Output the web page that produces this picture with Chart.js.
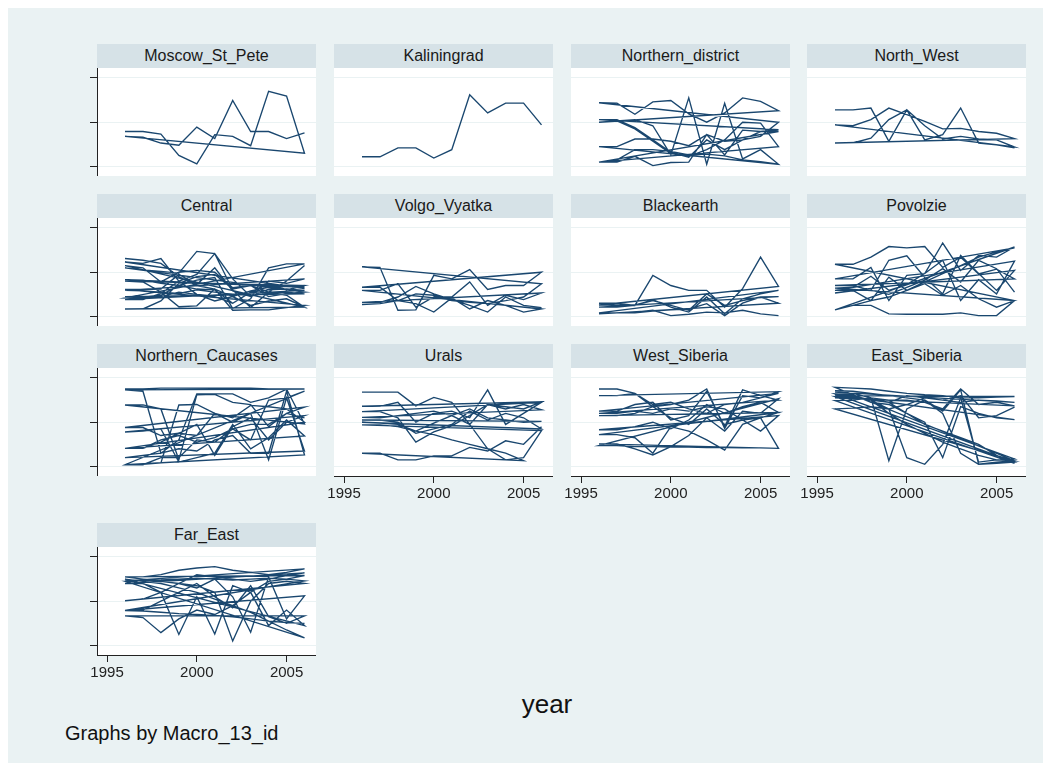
<!DOCTYPE html>
<html>
<head>
<meta charset="utf-8">
<script src="https://cdn.jsdelivr.net/npm/chart.js@4.4.1/dist/chart.umd.min.js"></script>
<style>
  html, body { margin: 0; padding: 0; background: #ffffff; }
  body { width: 1051px; height: 771px; overflow: hidden; position: relative;
         font-family: "Liberation Sans", Arial, Helvetica, sans-serif; }
  #graph { position: absolute; left: 8px; top: 8px; width: 1035px; height: 755px; background: #eaf2f3; }
  .strip { position: absolute; height: 24px; line-height: 24px; background: #d6e2e7;
           text-align: center; font-size: 16px; color: #1a1a1a; white-space: nowrap; }
  canvas.panel { position: absolute; }
  #xtitle { position: absolute; left: 447px; width: 200px; top: 688px; text-align: center;
            font-size: 26px; color: #111; line-height: 32px; }
  #note { position: absolute; left: 65px; top: 720px; font-size: 20px; color: #111; line-height: 26px; }
</style>
</head>
<body>
<div id="graph"></div>
<div id="xtitle">year</div>
<div id="note">Graphs by Macro_13_id</div>
<script>
// Survey years and the axis ticks shown on the panels
const years = [1996, 1997, 1998, 1999, 2000, 2001, 2002, 2003, 2004, 2005, 2006];
const xTicks = [1995, 2000, 2005];
const yTicks = [0, 1, 2];

// Panel titles (Macro_13_id), in display order
const regions = ['Moscow_St_Pete', 'Kaliningrad', 'Northern_district', 'North_West',
                 'Central', 'Volgo_Vyatka', 'Blackearth', 'Povolzie',
                 'Northern_Caucases', 'Urals', 'West_Siberia', 'East_Siberia',
                 'Far_East'];

// One row per region inside each macro-region, 1996..2006 (data order is kept)
const moscowStPete = [
  [0.79, 0.79, 0.73, 0.25, 0.06, 0.72, 0.68, 0.47, 1.70, 1.59, 0.30],
  [0.68, 0.66, 0.53, 0.48, 0.89, 0.63, 1.49, 0.79, 0.79, 0.63, 0.76]
];
const kaliningrad = [
  [0.22, 0.22, 0.42, 0.42, 0.19, 0.38, 1.62, 1.21, 1.43, 1.43, 0.94]
];
const northernDistrict = [
  [1.06, 1.06, 0.88, 0.60, 0.32, 0.21, 0.60, 0.38, 0.60, 0.68, 1.00],
  [1.44, 1.43, 1.18, 1.46, 1.49, 1.19, 1.00, 1.21, 1.55, 1.47, 1.26],
  [1.00, 1.03, 1.06, 0.92, 0.26, 1.55, 0.05, 1.43, 0.17, 0.38, 0.05],
  [0.45, 0.45, 0.62, 0.62, 0.57, 0.47, 0.72, 0.26, 0.82, 0.79, 0.79],
  [0.10, 0.10, 0.23, 0.02, 0.09, 0.10, 0.72, 0.57, 0.60, 0.79, 0.83],
  [1.06, 1.03, 0.85, 0.57, 0.29, 0.23, 0.38, 0.60, 1.00, 0.98, 0.45],
  [0.10, 0.15, 0.38, 0.38, 0.34, 0.26, 0.28, 0.24, 0.15, 0.11, 0.05]
];
const northWest = [
  [1.28, 1.28, 1.32, 0.57, 1.28, 0.92, 0.62, 0.68, 0.62, 0.60, 0.44],
  [0.94, 0.92, 1.06, 1.32, 1.17, 1.02, 0.85, 0.86, 0.79, 0.75, 0.63],
  [0.53, 0.53, 0.64, 1.06, 1.28, 0.60, 0.72, 1.32, 0.53, 0.49, 0.42]
];
const central = [
  [1.31, 1.27, 1.20, 0.90, 0.70, 0.62, 0.45, 0.58, 0.66, 0.70, 0.63],
  [1.23, 1.20, 1.31, 0.80, 0.95, 1.42, 0.60, 0.20, 0.55, 0.48, 0.21],
  [1.15, 1.10, 0.78, 1.00, 1.04, 1.00, 0.65, 0.70, 0.45, 0.52, 0.55],
  [1.10, 1.05, 1.02, 0.98, 1.47, 1.42, 0.85, 0.45, 0.62, 0.70, 0.66],
  [0.83, 0.82, 0.75, 0.70, 0.62, 0.60, 0.30, 0.55, 0.75, 0.60, 0.70],
  [0.80, 0.78, 0.55, 0.22, 0.24, 0.62, 0.14, 0.15, 0.15, 0.20, 0.25],
  [0.61, 0.61, 0.62, 0.95, 0.72, 1.10, 0.58, 0.45, 0.80, 0.75, 0.85],
  [0.59, 0.58, 0.55, 0.52, 0.60, 0.55, 0.50, 0.48, 0.52, 0.55, 0.51],
  [0.45, 0.44, 0.48, 0.70, 0.82, 0.88, 0.18, 0.40, 1.10, 1.19, 1.19],
  [0.42, 0.41, 0.45, 0.55, 0.50, 0.45, 0.30, 0.55, 0.60, 0.62, 0.59],
  [0.38, 0.38, 0.52, 0.80, 0.50, 0.35, 0.45, 0.25, 0.35, 0.40, 0.21],
  [0.17, 0.17, 0.35, 0.75, 0.90, 0.95, 0.62, 0.70, 0.55, 0.80, 1.15]
];
const volgoVyatka = [
  [0.27, 0.29, 0.36, 0.51, 0.48, 0.36, 0.32, 0.29, 0.36, 0.44, 0.74],
  [1.12, 1.11, 0.14, 0.15, 0.93, 0.85, 1.06, 0.61, 0.70, 0.70, 1.00],
  [0.66, 0.66, 0.36, 0.29, 0.10, 0.42, 0.17, 0.36, 0.25, 0.10, 0.17],
  [0.59, 0.59, 0.74, 0.21, 0.44, 0.44, 0.78, 0.25, 0.48, 0.38, 0.53],
  [0.32, 0.32, 0.44, 0.68, 0.51, 0.38, 0.25, 0.10, 0.44, 0.25, 0.20]
];
const blackearth = [
  [0.30, 0.30, 0.25, 0.93, 0.70, 0.59, 0.59, 0.21, 0.63, 1.34, 0.68],
  [0.26, 0.26, 0.26, 0.36, 0.25, 0.14, 0.51, 0.25, 0.36, 0.44, 0.45],
  [0.21, 0.21, 0.25, 0.38, 0.21, 0.10, 0.44, 0.06, 0.40, 0.51, 0.59],
  [0.08, 0.08, 0.08, 0.12, 0.15, 0.17, 0.29, 0.02, 0.30, 0.44, 0.30],
  [0.06, 0.08, 0.10, 0.14, 0.02, 0.05, 0.10, 0.08, 0.14, 0.06, 0.02]
];
const povolzie = [
  [0.15, 0.25, 0.36, 0.44, 0.59, 0.78, 0.97, 1.15, 1.34, 1.46, 1.55],
  [0.85, 0.85, 1.11, 0.36, 0.93, 0.97, 1.66, 1.04, 1.38, 1.34, 1.57],
  [0.15, 0.25, 0.25, 0.06, 0.05, 0.05, 0.05, 0.08, 0.02, 0.02, 0.36],
  [1.18, 1.18, 1.34, 1.58, 1.55, 1.58, 1.11, 1.34, 0.96, 1.07, 0.85],
  [0.70, 0.70, 0.59, 1.27, 1.37, 0.88, 0.51, 1.38, 0.97, 0.59, 1.04],
  [0.53, 0.59, 0.36, 0.89, 0.59, 0.74, 0.48, 0.70, 0.40, 0.21, 0.36],
  [0.64, 0.66, 0.91, 0.59, 0.72, 0.97, 1.27, 0.36, 0.83, 0.51, 1.25],
  [0.59, 0.59, 0.59, 0.50, 0.66, 0.82, 1.08, 0.78, 1.27, 1.08, 0.55]
];
const northernCaucases = [
  [1.75, 1.75, 1.77, 1.77, 1.77, 1.77, 1.77, 1.77, 1.75, 1.75, 1.75],
  [1.73, 1.70, 0.30, 0.60, 1.64, 1.64, 1.64, 1.45, 1.55, 1.75, 0.96],
  [1.39, 1.39, 1.30, 0.15, 1.62, 1.63, 1.45, 1.40, 0.90, 1.20, 1.34],
  [0.88, 0.88, 0.70, 0.75, 0.95, 0.25, 0.90, 1.10, 0.60, 1.00, 1.15],
  [0.78, 0.80, 0.85, 0.10, 0.20, 0.30, 0.95, 0.40, 0.65, 1.05, 0.69],
  [0.41, 0.41, 0.55, 0.75, 0.70, 1.20, 1.00, 1.20, 0.15, 1.55, 0.35],
  [0.20, 0.25, 0.30, 0.40, 0.35, 0.60, 0.70, 0.30, 0.30, 1.70, 0.26],
  [0.04, 0.05, 0.08, 1.39, 1.40, 1.20, 1.10, 1.38, 1.35, 1.30, 1.00],
  [0.41, 0.41, 0.60, 0.70, 0.55, 0.65, 0.85, 0.60, 1.50, 1.55, 1.70],
  [0.04, 0.04, 0.20, 0.20, 0.60, 0.55, 0.85, 0.95, 0.95, 1.20, 1.10]
];
const urals = [
  [1.68, 1.68, 1.68, 1.37, 1.56, 1.45, 0.95, 1.40, 1.35, 1.30, 1.46],
  [1.36, 1.36, 1.45, 1.00, 1.20, 1.25, 1.10, 1.73, 0.95, 1.20, 1.45],
  [1.24, 1.24, 1.10, 0.55, 0.78, 0.92, 1.15, 1.40, 1.30, 1.40, 1.28],
  [1.11, 1.10, 1.15, 1.20, 1.25, 1.15, 1.30, 1.10, 1.05, 1.00, 1.02],
  [1.05, 1.05, 1.00, 0.75, 0.85, 0.95, 1.25, 1.05, 1.20, 1.10, 0.85],
  [1.00, 0.98, 0.95, 0.80, 0.98, 1.15, 0.95, 0.40, 0.15, 0.20, 0.81],
  [0.94, 0.94, 0.90, 0.80, 0.72, 0.60, 0.50, 0.40, 0.30, 0.13, null],
  [0.30, 0.30, 0.15, 0.15, 0.24, 0.24, 0.43, 0.35, 0.58, 0.50, 0.90]
];
const westSiberia = [
  [1.75, 1.75, 1.65, 1.40, 1.45, 1.30, 1.20, 1.40, 1.45, 1.55, 1.69],
  [1.60, 1.60, 1.65, 1.35, 1.40, 1.50, 1.75, 0.86, 1.60, 1.55, 1.65],
  [1.25, 1.25, 1.40, 1.45, 1.05, 1.15, 1.70, 0.90, 1.73, 1.60, 1.50],
  [1.20, 1.20, 1.25, 1.20, 1.30, 1.25, 1.35, 1.30, 1.05, 1.10, 1.22],
  [1.15, 1.15, 1.20, 1.35, 1.10, 0.95, 1.30, 0.95, 1.05, 0.80, 1.15],
  [0.83, 0.83, 0.90, 1.00, 0.85, 1.05, 1.40, 1.20, 1.35, 1.45, 1.22],
  [0.72, 0.72, 0.65, 0.30, 0.90, 0.80, 0.60, 0.37, 0.95, 1.10, 0.41],
  [0.51, 0.51, 0.40, 0.26, 0.45, 0.70, 1.10, 0.80, 1.25, 1.20, 1.53],
  [0.47, 0.47, 0.45, 0.45, 0.44, 0.44, 0.43, 0.43, 0.42, 0.42, 0.41]
];
const eastSiberia = [
  [1.71, 1.70, 1.65, 1.60, 1.55, 1.50, 1.20, 0.30, 0.05, 0.07, 0.10],
  [1.58, 1.56, 1.52, 1.45, 1.60, 1.55, 1.50, 1.45, 1.50, 1.48, 1.45],
  [1.68, 1.65, 1.55, 0.13, 1.30, 1.50, 1.25, 1.73, 0.05, 0.10, 0.13],
  [1.79, 1.77, 1.75, 1.70, 1.65, 1.62, 1.60, 1.55, 1.55, 1.57, 1.58],
  [1.60, 1.58, 1.50, 1.45, 1.20, 0.95, 0.80, 0.65, 0.50, 0.25, 0.07],
  [1.49, 1.50, 1.55, 1.50, 1.50, 1.45, 1.30, 1.75, 1.40, 1.45, 1.37],
  [1.55, 1.55, 1.50, 1.30, 0.20, 0.05, 0.50, 1.55, 0.10, 0.15, 0.17],
  [1.64, 1.62, 1.45, 1.40, 1.20, 1.00, 0.20, 1.35, 1.20, 1.10, 1.06],
  [1.62, 1.60, 1.50, 1.20, 0.95, 0.75, 0.55, 0.40, 0.25, 0.15, 0.13],
  [1.30, 1.32, 1.35, 1.30, 1.40, 1.55, 1.50, 1.60, 1.10, 1.15, 1.34]
];
const farEast = [
  [1.55, 1.55, 1.60, 1.70, 1.75, 1.78, 1.70, 1.65, 1.60, 1.65, 1.73],
  [1.46, 1.48, 1.45, 1.40, 1.60, 1.55, 1.50, 1.45, 1.50, 1.58, 1.64],
  [1.40, 1.40, 1.20, 0.25, 1.10, 0.26, 1.35, 1.20, 1.45, 1.50, 1.58],
  [1.55, 1.50, 1.45, 1.40, 1.35, 1.20, 0.10, 1.00, 1.40, 1.45, 1.40],
  [1.01, 1.05, 1.20, 1.40, 1.30, 1.50, 1.10, 0.30, 1.55, 0.60, 1.12],
  [0.79, 0.80, 1.00, 1.20, 1.40, 1.10, 0.85, 1.35, 0.65, 0.50, 0.67],
  [0.67, 0.63, 0.29, 0.60, 0.80, 0.70, 0.90, 1.20, 0.45, 0.80, 0.45],
  [1.50, 1.45, 1.40, 1.30, 1.20, 1.05, 0.90, 0.75, 0.55, 0.35, 0.17],
  [1.45, 1.47, 1.48, 1.50, 1.52, 1.50, 1.48, 1.50, 1.52, 1.50, 1.46],
  [0.79, 0.78, 0.75, 0.72, 0.70, 0.68, 0.65, 0.60, 0.55, 0.52, 0.50]
];

const panelData = [moscowStPete, kaliningrad, northernDistrict, northWest,
                   central, volgoVyatka, blackearth, povolzie,
                   northernCaucases, urals, westSiberia, eastSiberia,
                   farEast];

// Panels that carry the x axis (bottom of each column)
const withXAxis = ['Urals', 'West_Siberia', 'East_Siberia', 'Far_East'];

// Grid geometry of the panel matrix
const colLeft = [97, 334, 571, 807];
const plotW = 219;
const stripTop = [44, 194, 344, 523];
const stripH = 24;
const plotH = 108;
const yAxisW = 12;
const xAxisH = 32;

const NAVY = '#1a476f';
const INK = '#222222';

Chart.defaults.font.family = '"Liberation Sans", Arial, Helvetica, sans-serif';

// White plot region behind the grid and the lines
const plotFill = {
  id: 'plotFill',
  beforeDraw(chart) {
    const a = chart.chartArea, ctx = chart.ctx;
    ctx.save();
    ctx.fillStyle = '#ffffff';
    ctx.fillRect(a.left, a.top, a.right - a.left, a.bottom - a.top);
    ctx.restore();
  }
};

// Observations in data order: a region's last year joins the next region's first year
function toPoints(rows) {
  const pts = [];
  rows.forEach(row => row.forEach((v, i) => {
    if (v !== null) pts.push({ x: years[i], y: v });
  }));
  return pts;
}

regions.forEach((name, k) => {
  const col = k % 4, row = Math.floor(k / 4);
  const left = colLeft[col];
  const top = stripTop[row];
  const hasY = col === 0;
  const hasX = withXAxis.includes(name);

  const strip = document.createElement('div');
  strip.className = 'strip';
  strip.style.left = left + 'px';
  strip.style.top = top + 'px';
  strip.style.width = plotW + 'px';
  strip.textContent = name;
  document.body.appendChild(strip);

  const cv = document.createElement('canvas');
  cv.className = 'panel';
  const cw = plotW + yAxisW, ch = plotH + (hasX ? xAxisH : 0);
  cv.width = cw; cv.height = ch;
  cv.style.width = cw + 'px'; cv.style.height = ch + 'px';
  cv.style.left = (left - yAxisW) + 'px';
  cv.style.top = (top + stripH) + 'px';
  document.body.appendChild(cv);

  new Chart(cv, {
    type: 'line',
    data: {
      datasets: [{
        label: name,
        data: toPoints(panelData[k]),
        borderColor: NAVY,
        borderWidth: 1.35,
        pointRadius: 0,
        fill: false,
        tension: 0
      }]
    },
    options: {
      responsive: false,
      maintainAspectRatio: false,
      animation: false,
      devicePixelRatio: 1,
      layout: { padding: 0 },
      plugins: { legend: { display: false }, tooltip: { enabled: false } },
      scales: {
        x: {
          type: 'linear',
          min: 1994.44,
          max: 2006.64,
          display: hasX,
          afterFit(s) { if (hasX) s.height = xAxisH; },
          afterBuildTicks(s) { s.ticks = xTicks.map(v => ({ value: v })); },
          ticks: { callback: v => String(v), font: { size: 15 }, color: INK,
                   padding: 2, maxRotation: 0, autoSkip: false },
          grid: { drawOnChartArea: false, drawTicks: true, tickLength: 7, tickColor: INK },
          border: { display: true, color: INK, width: 1 }
        },
        y: {
          type: 'linear',
          min: -0.215,
          max: 2.225,
          afterFit(s) { s.width = yAxisW; s.paddingTop = 0; s.paddingBottom = 0; },
          afterBuildTicks(s) { s.ticks = yTicks.map(v => ({ value: v })); },
          ticks: { display: false },
          grid: { color: '#eaf2f3', lineWidth: 1, drawTicks: hasY, tickLength: 7, tickColor: INK },
          border: { display: hasY, color: INK, width: 1 }
        }
      }
    },
    plugins: [plotFill]
  });
});
</script>
</body>
</html>
